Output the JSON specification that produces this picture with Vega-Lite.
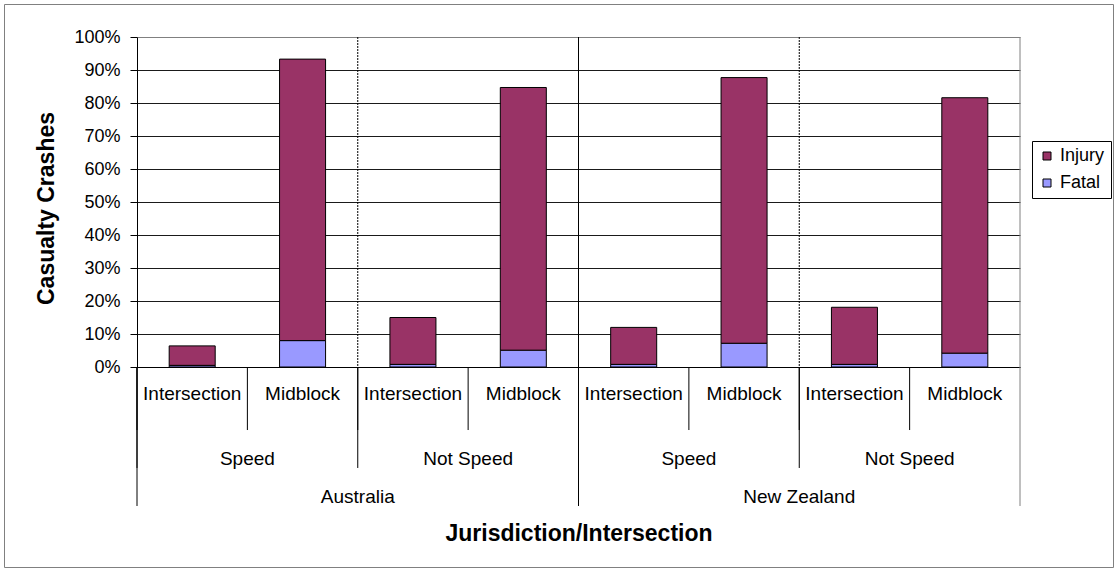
{
  "$schema": "https://vega.github.io/schema/vega-lite/v6.json",
  "width": 1109,
  "height": 563,
  "autosize": {"type": "none"},
  "padding": {"left": 4, "top": 4, "right": 4, "bottom": 3},
  "background": "white",
  "config": {
    "font": "Liberation Sans",
    "view": {"stroke": "#808080", "strokeWidth": 1},
    "axis": {"labelColor": "#000", "titleColor": "#000", "domainColor": "#000", "tickColor": "#000", "labelFont": "Liberation Sans", "titleFont": "Liberation Sans"},
    "legend": {"labelFont": "Liberation Sans"}
  },
  "data": {
    "values": [
      {"key": "AU-S-I", "jurisdiction": "Australia", "speed": "Speed", "location": "Intersection", "severity": "Fatal", "share": 0.005},
      {"key": "AU-S-I", "jurisdiction": "Australia", "speed": "Speed", "location": "Intersection", "severity": "Injury", "share": 0.059},
      {"key": "AU-S-M", "jurisdiction": "Australia", "speed": "Speed", "location": "Midblock", "severity": "Fatal", "share": 0.080},
      {"key": "AU-S-M", "jurisdiction": "Australia", "speed": "Speed", "location": "Midblock", "severity": "Injury", "share": 0.853},
      {"key": "AU-N-I", "jurisdiction": "Australia", "speed": "Not Speed", "location": "Intersection", "severity": "Fatal", "share": 0.008},
      {"key": "AU-N-I", "jurisdiction": "Australia", "speed": "Not Speed", "location": "Intersection", "severity": "Injury", "share": 0.142},
      {"key": "AU-N-M", "jurisdiction": "Australia", "speed": "Not Speed", "location": "Midblock", "severity": "Fatal", "share": 0.051},
      {"key": "AU-N-M", "jurisdiction": "Australia", "speed": "Not Speed", "location": "Midblock", "severity": "Injury", "share": 0.796},
      {"key": "NZ-S-I", "jurisdiction": "New Zealand", "speed": "Speed", "location": "Intersection", "severity": "Fatal", "share": 0.008},
      {"key": "NZ-S-I", "jurisdiction": "New Zealand", "speed": "Speed", "location": "Intersection", "severity": "Injury", "share": 0.112},
      {"key": "NZ-S-M", "jurisdiction": "New Zealand", "speed": "Speed", "location": "Midblock", "severity": "Fatal", "share": 0.072},
      {"key": "NZ-S-M", "jurisdiction": "New Zealand", "speed": "Speed", "location": "Midblock", "severity": "Injury", "share": 0.805},
      {"key": "NZ-N-I", "jurisdiction": "New Zealand", "speed": "Not Speed", "location": "Intersection", "severity": "Fatal", "share": 0.008},
      {"key": "NZ-N-I", "jurisdiction": "New Zealand", "speed": "Not Speed", "location": "Intersection", "severity": "Injury", "share": 0.173},
      {"key": "NZ-N-M", "jurisdiction": "New Zealand", "speed": "Not Speed", "location": "Midblock", "severity": "Fatal", "share": 0.042},
      {"key": "NZ-N-M", "jurisdiction": "New Zealand", "speed": "Not Speed", "location": "Midblock", "severity": "Injury", "share": 0.774}
    ]
  },
  "layer": [
    {
      "mark": {"type": "bar", "width": {"band": 0.417}, "stroke": "#000", "strokeWidth": 1},
      "encoding": {
        "x": {
          "field": "key", "type": "nominal", "title": "Jurisdiction/Intersection",
          "scale": {"domain": ["AU-S-I", "AU-S-M", "AU-N-I", "AU-N-M", "NZ-S-I", "NZ-S-M", "NZ-N-I", "NZ-N-M"], "range": [133, 1016], "paddingInner": 0, "paddingOuter": 0},
          "axis": {"offset": -200, "domain": true, "domainColor": "#000", "ticks": false, "labels": false, "grid": false, "titleFontSize": 23, "titleFontWeight": "bold", "titleBaseline": "middle", "titleY": 166, "titleX": 574.5, "titleAlign": "center"}
        },
        "y": {
          "field": "share", "type": "quantitative", "stack": "zero", "title": "Casualty Crashes",
          "scale": {"domain": [0, 1], "range": [363, 33], "nice": false},
          "axis": {
            "offset": -133, "values": [0, 0.1, 0.2, 0.3, 0.4, 0.5, 0.6, 0.7, 0.8, 0.9, 1],
            "format": ".0%", "labelFontSize": 18, "labelPadding": 10, "tickSize": 7,
            "grid": true, "gridColor": {"condition": {"test": "datum.value == 1", "value": "#808080"}, "value": "#1a1a1a"}, "gridWidth": 1,
            "domainColor": "#000", "titleFontSize": 23, "titleFontWeight": "bold",
            "titleX": -91, "titleY": 204, "titleBaseline": "middle", "titleAngle": -90, "titleAlign": "center"
          }
        },
        "color": {
          "field": "severity", "type": "nominal",
          "scale": {"domain": ["Injury", "Fatal"], "range": ["#993366", "#9999FF"]},
          "legend": {"title": null, "orient": "none", "legendX": 1028, "legendY": 137, "strokeColor": "#000", "padding": 6, "fillColor": "#fff", "labelFontSize": 18, "labelColor": "#000", "symbolType": "square", "symbolSize": 64, "symbolStrokeColor": "#000", "symbolStrokeWidth": 1, "symbolOpacity": 1, "labelOffset": 4, "rowPadding": 9, "cornerRadius": 0}
        },
        "order": {"field": "severity", "sort": "ascending"}
      }
    },
    {
      "transform": [{"filter": "datum.severity == 'Fatal'"}],
      "mark": {"type": "rule", "color": "#000", "strokeWidth": 1},
      "encoding": {
        "x": {"field": "key", "type": "nominal", "bandPosition": 0, "title": "Jurisdiction/Intersection"},
        "y": {"datum": 0},
        "y2": {"datum": -0.191}
      }
    },
    {
      "transform": [{"filter": "datum.severity == 'Fatal' && datum.location == 'Intersection'"}],
      "mark": {"type": "rule", "color": "#000", "strokeWidth": 1},
      "encoding": {
        "x": {"field": "key", "type": "nominal", "bandPosition": 0, "title": "Jurisdiction/Intersection"},
        "y": {"datum": 0},
        "y2": {"datum": -0.306}
      }
    },
    {
      "transform": [{"filter": "datum.severity == 'Fatal' && datum.location == 'Intersection' && datum.speed == 'Speed'"}],
      "mark": {"type": "rule", "color": "#000", "strokeWidth": 1},
      "encoding": {
        "x": {"field": "key", "type": "nominal", "bandPosition": 0, "title": "Jurisdiction/Intersection"},
        "y": {"datum": 0},
        "y2": {"datum": -0.4212}
      }
    },
    {
      "transform": [{"filter": "datum.severity == 'Fatal' && datum.key == 'NZ-N-M'"}],
      "mark": {"type": "rule", "color": "#808080", "strokeWidth": 1},
      "encoding": {
        "x": {"field": "key", "type": "nominal", "bandPosition": 1, "title": "Jurisdiction/Intersection"},
        "y": {"datum": 1},
        "y2": {"datum": -0.4212}
      }
    },
    {
      "transform": [{"filter": "datum.severity == 'Fatal' && datum.location == 'Intersection' && datum.speed == 'Not Speed'"}],
      "mark": {"type": "rule", "color": "#000", "strokeWidth": 1, "strokeDash": [2, 1]},
      "encoding": {
        "x": {"field": "key", "type": "nominal", "bandPosition": 0, "title": "Jurisdiction/Intersection"},
        "y": {"datum": 1},
        "y2": {"datum": 0}
      }
    },
    {
      "transform": [{"filter": "datum.severity == 'Fatal' && datum.key == 'NZ-S-I'"}],
      "mark": {"type": "rule", "color": "#000", "strokeWidth": 1},
      "encoding": {
        "x": {"field": "key", "type": "nominal", "bandPosition": 0, "title": "Jurisdiction/Intersection"},
        "y": {"datum": 1},
        "y2": {"datum": 0}
      }
    },
    {
      "transform": [{"filter": "datum.severity == 'Fatal'"}],
      "mark": {"type": "text", "fontSize": 19, "color": "#000", "align": "center", "baseline": "middle"},
      "encoding": {
        "x": {"field": "key", "type": "nominal", "bandPosition": 0.5, "title": "Jurisdiction/Intersection"},
        "y": {"datum": -0.0806},
        "text": {"field": "location"}
      }
    },
    {
      "transform": [{"filter": "datum.severity == 'Fatal' && datum.location == 'Intersection'"}],
      "mark": {"type": "text", "fontSize": 19, "color": "#000", "align": "center", "baseline": "middle"},
      "encoding": {
        "x": {"field": "key", "type": "nominal", "bandPosition": 1, "title": "Jurisdiction/Intersection"},
        "y": {"datum": -0.2788},
        "text": {"field": "speed"}
      }
    },
    {
      "transform": [{"filter": "datum.severity == 'Fatal' && datum.location == 'Midblock' && datum.speed == 'Speed'"}],
      "mark": {"type": "text", "fontSize": 19, "color": "#000", "align": "center", "baseline": "middle"},
      "encoding": {
        "x": {"field": "key", "type": "nominal", "bandPosition": 1, "title": "Jurisdiction/Intersection"},
        "y": {"datum": -0.394},
        "text": {"field": "jurisdiction"}
      }
    }
  ]
}
